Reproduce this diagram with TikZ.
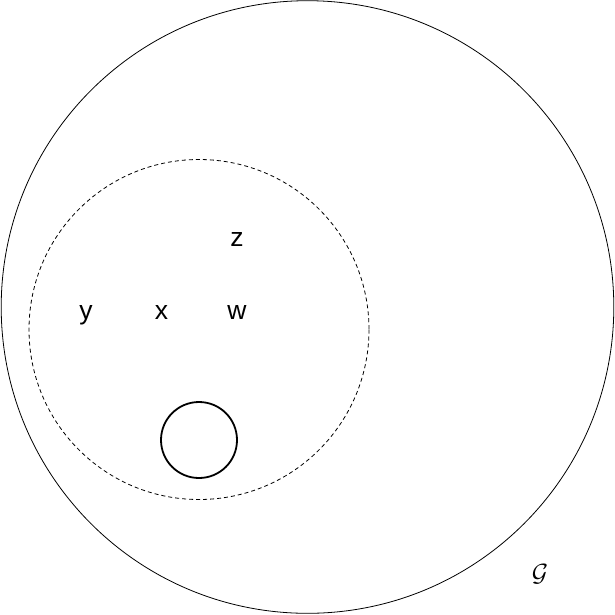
\documentclass[tikz,border=0pt]{standalone}
\usepackage{fontspec}
\setmainfont{Liberation Sans}
\begin{document}
\begin{tikzpicture}[x=1pt,y=-1pt,
  lbl/.style={font=\fontsize{26.5}{30}\selectfont, anchor=base, inner sep=0pt}]
\useasboundingbox (0,0) rectangle (615,614);
\draw[line width=0.8pt] (307.5,307) circle[radius=306.3];
\draw[dashed, line width=0.8pt, dash pattern=on 4pt off 3pt] (199,329.5) circle[radius=170];
\draw[line width=1.8pt] (199,440) circle[radius=38];
\node[lbl] (y) at (86,319.5) {y};
\node[lbl] (x) at (161.5,319.5) {x};
\node[lbl] (w) at (237,319.5) {w};
\node[lbl] (z) at (237,246) {z};
\node[font=\fontsize{28}{32}\selectfont, inner sep=0pt] (G) at (540,574) {$\mathcal{G}$};
\end{tikzpicture}
\end{document}
